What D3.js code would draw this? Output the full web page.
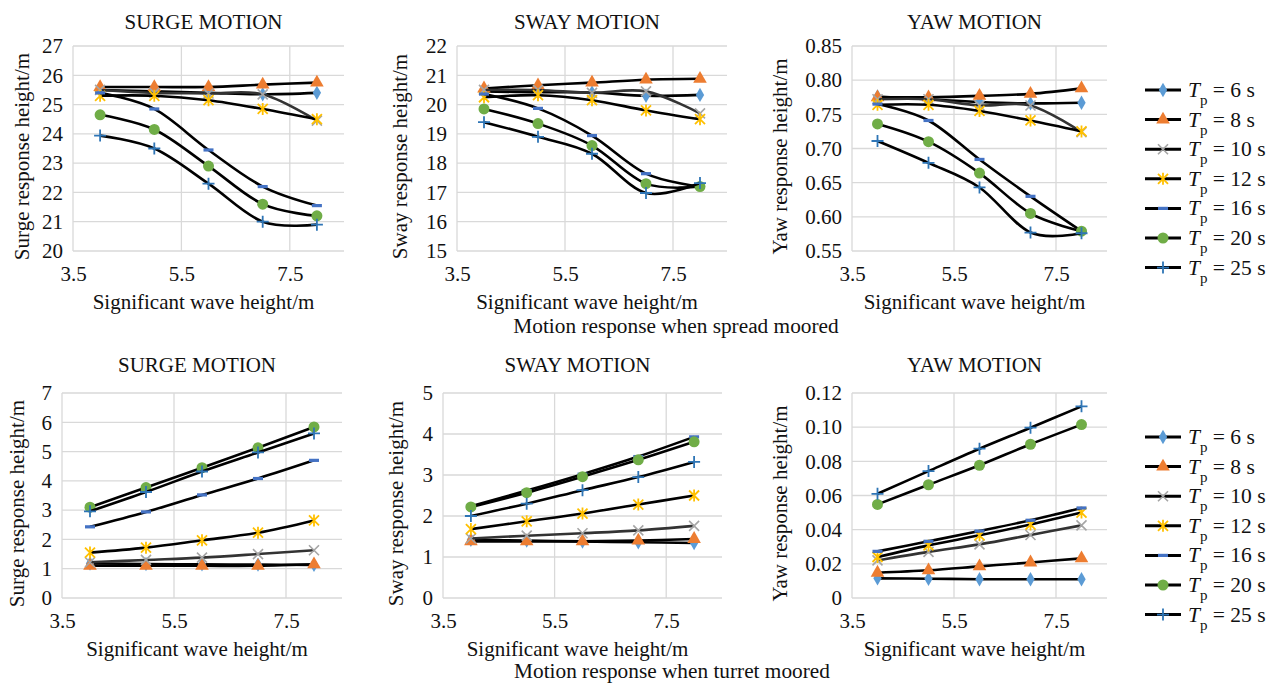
<!DOCTYPE html>
<html>
<head>
<meta charset="utf-8">
<script src="https://cdn.jsdelivr.net/npm/d3@7"></script>
<style>
body { margin: 0; background: #fff; }
.grid line { stroke: #d9d9d9; stroke-width: 1.3px; }
.series path.line { fill: none; stroke: #000; stroke-width: 2.6px; }
</style>
</head>
<body>
<div id="chart"></div>
<script>
// wave heights (x) and peak periods (series)
var waveHeights = [4, 5, 6, 7, 8];
var periods = [6, 8, 10, 12, 16, 20, 25];

// spread moored, one row per period
var spreadSurge = [
  [25.5, 25.45, 25.4, 25.35, 25.4],
  [25.6, 25.6, 25.6, 25.68, 25.75],
  [25.5, 25.4, 25.38, 25.35, 24.45],
  [25.3, 25.3, 25.15, 24.85, 24.5],
  [25.4, 24.85, 23.45, 22.2, 21.55],
  [24.65, 24.15, 22.9, 21.6, 21.2],
  [23.94, 23.5, 22.3, 21.0, 20.9]
];
var spreadSway = [
  [20.45, 20.42, 20.41, 20.3, 20.33],
  [20.55, 20.66, 20.75, 20.85, 20.88],
  [20.5, 20.5, 20.4, 20.45, 19.7],
  [20.25, 20.32, 20.15, 19.8, 19.5],
  [20.36, 19.87, 18.94, 17.64, 17.2],
  [19.85, 19.35, 18.6, 17.3, 17.2],
  [19.4, 18.9, 18.32, 16.98, 17.32]
];
var spreadYaw = [
  [0.776, 0.772, 0.768, 0.766, 0.767],
  [0.775, 0.775, 0.777, 0.780, 0.788],
  [0.772, 0.772, 0.763, 0.763, 0.724],
  [0.764, 0.764, 0.755, 0.741, 0.725],
  [0.765, 0.741, 0.684, 0.630, 0.579],
  [0.736, 0.710, 0.664, 0.605, 0.579],
  [0.711, 0.679, 0.643, 0.577, 0.576]
];

// turret moored
var turretSurge = [
  [1.18, 1.16, 1.15, 1.14, 1.13],
  [1.1, 1.1, 1.1, 1.1, 1.15],
  [1.22, 1.3, 1.38, 1.5, 1.63],
  [1.55, 1.72, 1.97, 2.23, 2.65],
  [2.43, 2.94, 3.52, 4.08, 4.7],
  [3.1, 3.77, 4.45, 5.13, 5.84],
  [2.96, 3.62, 4.32, 4.97, 5.62]
];
var turretSway = [
  [1.42, 1.4, 1.38, 1.36, 1.34],
  [1.38, 1.38, 1.38, 1.4, 1.44],
  [1.45, 1.52, 1.58, 1.65, 1.76],
  [1.68, 1.87, 2.06, 2.28, 2.5],
  [2.24, 2.62, 3.02, 3.45, 3.93],
  [2.22, 2.57, 2.96, 3.37, 3.81],
  [2.0, 2.3, 2.63, 2.95, 3.32]
];
var turretYaw = [
  [0.0115, 0.0113, 0.011, 0.011, 0.011],
  [0.0148, 0.0162, 0.0185, 0.0208, 0.0232],
  [0.022, 0.027, 0.0314, 0.0369, 0.0425],
  [0.024, 0.0308, 0.0367, 0.043, 0.050],
  [0.0273, 0.0332, 0.0392, 0.0455, 0.0527],
  [0.0548, 0.0663, 0.0777, 0.090, 0.1015],
  [0.061, 0.0743, 0.0874, 0.0997, 0.1122]
];

var xTicks = [3.5, 5.5, 7.5];
var surgeTopTicks = [20, 21, 22, 23, 24, 25, 26, 27];
var swayTopTicks = [15, 16, 17, 18, 19, 20, 21, 22];
var yawTopTicks = [0.55, 0.60, 0.65, 0.70, 0.75, 0.80, 0.85];
var surgeBotTicks = [0, 1, 2, 3, 4, 5, 6, 7];
var swayBotTicks = [0, 1, 2, 3, 4, 5];
var yawBotTicks = [0, 0.02, 0.04, 0.06, 0.08, 0.10, 0.12];

var serif = "Liberation Serif";
var width = 1270, height = 688;
var svg = d3.select("#chart").append("svg")
            .attr("width", width)
            .attr("height", height)
            .attr("font-family", serif);

var panels = [
  {title: "SURGE MOTION", ylab: "Surge response height/m", data: spreadSurge, ticks: surgeTopTicks, fmt: d3.format("d"),
   x0: 73, x1: 344, y0: 46, y1: 251, labX: 22, titleY: 29},
  {title: "SWAY MOTION", ylab: "Sway response height/m", data: spreadSway, ticks: swayTopTicks, fmt: d3.format("d"),
   x0: 457, x1: 727, y0: 46, y1: 251, labX: 400, titleY: 29},
  {title: "YAW MOTION", ylab: "Yaw response height/m", data: spreadYaw, ticks: yawTopTicks, fmt: d3.format(".2f"),
   x0: 852, x1: 1107, y0: 46, y1: 251, labX: 780, titleY: 29},
  {title: "SURGE MOTION", ylab: "Surge response height/m", data: turretSurge, ticks: surgeBotTicks, fmt: d3.format("d"),
   x0: 62, x1: 342, y0: 393, y1: 598, labX: 17, titleY: 372},
  {title: "SWAY MOTION", ylab: "Sway response height/m", data: turretSway, ticks: swayBotTicks, fmt: d3.format("d"),
   x0: 443, x1: 722, y0: 393, y1: 598, labX: 396, titleY: 372},
  {title: "YAW MOTION", ylab: "Yaw response height/m", data: turretYaw, ticks: yawBotTicks,
   fmt: function(d) { return d === 0 ? "0" : d3.format(".2f")(d); },
   x0: 852, x1: 1107, y0: 393, y1: 598, labX: 780, titleY: 372}
];

// marker drawing per series
var markerColors = ["#5b9bd5", "#ed7d31", "#a5a5a5", "#ffc000", "#4472c4", "#70ad47", "#2e75b6"];
function drawMarker(g, i) {
  var c = markerColors[i];
  if (i === 0) {
    g.append("path").attr("d", d3.symbol().type(d3.symbolDiamond).size(60)()).attr("fill", c);
  } else if (i === 1) {
    g.append("path").attr("d", d3.symbol().type(d3.symbolTriangle).size(80)()).attr("fill", c);
  } else if (i === 2) {
    g.append("path").attr("d", "M-5,-5L5,5M-5,5L5,-5").attr("stroke", c).attr("stroke-width", 1.6);
  } else if (i === 3) {
    g.append("path").attr("d", "M-5,-5L5,5M-5,5L5,-5M0,-6L0,6").attr("stroke", c).attr("stroke-width", 1.8);
  } else if (i === 4) {
    g.append("rect").attr("x", -5).attr("y", -1.6).attr("width", 10).attr("height", 3.2).attr("fill", c);
  } else if (i === 5) {
    g.append("circle").attr("r", 5.5).attr("fill", c);
  } else {
    g.append("path").attr("d", "M-6,0L6,0M0,-6L0,6").attr("stroke", c).attr("stroke-width", 1.8);
  }
}

panels.forEach(function(p) {
  var x = d3.scaleLinear().domain([3.5, 8.5]).range([p.x0, p.x1]);
  var y = d3.scaleLinear().domain([p.ticks[0], p.ticks[p.ticks.length - 1]]).range([p.y1, p.y0]);
  var g = svg.append("g");

  // grid
  var grid = g.append("g").attr("class", "grid");
  grid.selectAll("line.h").data(p.ticks).enter().append("line")
      .attr("x1", p.x0).attr("x2", p.x1)
      .attr("y1", function(d) { return y(d); }).attr("y2", function(d) { return y(d); });
  grid.selectAll("line.v").data(xTicks).enter().append("line")
      .attr("x1", function(d) { return x(d); }).attr("x2", function(d) { return x(d); })
      .attr("y1", p.y0).attr("y2", p.y1);

  // tick labels via axes without domain/ticks lines
  var yAxis = g.append("g").attr("transform", "translate(" + p.x0 + ",0)")
               .call(d3.axisLeft(y).tickValues(p.ticks).tickFormat(p.fmt).tickSize(0).tickPadding(10));
  var xAxis = g.append("g").attr("transform", "translate(0," + p.y1 + ")")
               .call(d3.axisBottom(x).tickValues(xTicks).tickFormat(d3.format(".1f")).tickSize(0).tickPadding(15));
  [yAxis, xAxis].forEach(function(a) {
    a.attr("font-family", serif).attr("font-size", 21);
    a.select(".domain").remove();
    a.selectAll("text").attr("fill", "#111");
  });

  // titles
  var cx = (p.x0 + p.x1) / 2;
  g.append("text").attr("x", cx - 5).attr("y", p.titleY)
   .attr("text-anchor", "middle").attr("font-size", 21).attr("fill", "#111").text(p.title);
  g.append("text").attr("x", cx - 5).attr("y", p.y1 + 58)
   .attr("text-anchor", "middle").attr("font-size", 21).attr("fill", "#111").text("Significant wave height/m");
  g.append("text").attr("transform", "translate(" + p.labX + "," + ((p.y0 + p.y1) / 2 + 8) + ") rotate(-90)")
   .attr("dy", "0.35em").attr("text-anchor", "middle").attr("font-size", 21).attr("fill", "#111").text(p.ylab);

  // series
  var line = d3.line().curve(d3.curveCatmullRom.alpha(0))
               .x(function(d, i) { return x(waveHeights[i]); })
               .y(function(d) { return y(d); });
  p.data.forEach(function(vals, si) {
    var s = g.append("g").attr("class", "series");
    s.append("path").attr("class", "line").attr("d", line(vals))
     .style("stroke", si === 2 ? "#333" : "#000");
    vals.forEach(function(v, i) {
      var m = s.append("g").attr("transform", "translate(" + x(waveHeights[i]) + "," + y(v) + ")");
      drawMarker(m, si);
    });
  });
});

// legends
[90, 437].forEach(function(ly) {
  var leg = svg.append("g").attr("transform", "translate(1145," + ly + ")");
  periods.forEach(function(t, i) {
    var row = leg.append("g").attr("transform", "translate(0," + (i * 29.6) + ")");
    row.append("line").attr("x1", 0).attr("x2", 36).attr("y1", 0).attr("y2", 0)
       .attr("stroke", "#000").attr("stroke-width", 3);
    drawMarker(row.append("g").attr("transform", "translate(18,0)"), i);
    var txt = row.append("text").attr("x", 43).attr("y", 7).attr("font-size", 21.5).attr("fill", "#111");
    txt.append("tspan").attr("font-style", "italic").text("T");
    txt.append("tspan").attr("dy", 8).attr("font-size", 15).text("p");
    txt.append("tspan").attr("dy", -8).text(" = " + t + " s");
  });
});

// captions
svg.append("text").attr("x", 676).attr("y", 333).attr("text-anchor", "middle")
   .attr("font-size", 21.3).attr("fill", "#111").text("Motion response when spread moored");
svg.append("text").attr("x", 672).attr("y", 678).attr("text-anchor", "middle")
   .attr("font-size", 21.3).attr("fill", "#111").text("Motion response when turret moored");
</script>
</body>
</html>
